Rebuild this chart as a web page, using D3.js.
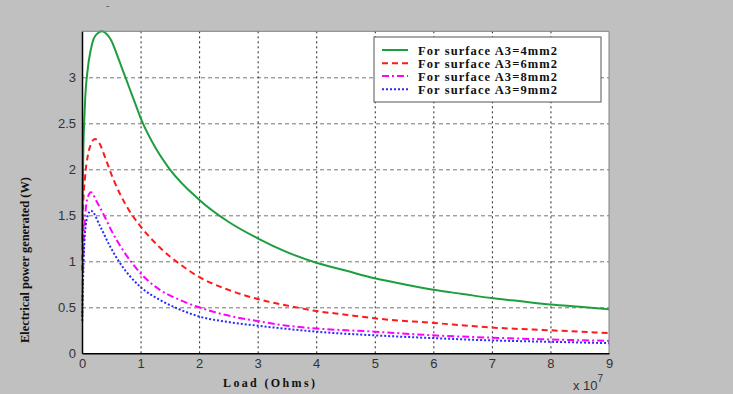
<!DOCTYPE html>
<html>
<head>
<meta charset="utf-8">
<script src="https://cdn.jsdelivr.net/npm/d3@7.9.0/dist/d3.min.js"></script>
<style>
  body { margin: 0; background: #c0c0c0; }
  svg { display: block; }
  .tick text { font-family: "Liberation Sans", Arial, sans-serif; font-size: 13px; fill: #333; }
  .serif { font-family: "Liberation Serif", "Times New Roman", serif; font-weight: bold; }
</style>
</head>
<body>
<div id="chart"></div>
<script>
// Load in units of 1e7 Ohms, power in W
const xTicks = [0, 1, 2, 3, 4, 5, 6, 7, 8, 9];
const yTicks = [0, 0.5, 1, 1.5, 2, 2.5, 3];

const loadA4 = [0.003, 0.01, 0.02, 0.05, 0.1, 0.15, 0.2, 0.27, 0.34, 0.42, 0.5, 0.6, 0.7, 0.8, 0.9, 1, 1.25, 1.5, 2, 2.5, 3, 3.5, 4, 4.5, 5, 5.5, 6, 6.5, 7, 7.5, 8, 8.5, 9];
const powerA4 = [1.2, 1.6, 2.1, 2.7, 3.1, 3.3, 3.42, 3.48, 3.5, 3.47, 3.4, 3.24, 3.07, 2.9, 2.73, 2.56, 2.24, 2.0, 1.67, 1.43, 1.25, 1.1, 0.985, 0.9, 0.815, 0.75, 0.69, 0.645, 0.6, 0.565, 0.53, 0.505, 0.48];

const loadA6 = [0.003, 0.01, 0.02, 0.05, 0.1, 0.15, 0.22, 0.3, 0.4, 0.53, 0.76, 1, 1.33, 1.67, 2, 2.5, 3, 3.5, 4, 4.5, 5, 6, 7, 8, 9];
const powerA6 = [0.9, 1.25, 1.6, 1.9, 2.15, 2.27, 2.33, 2.28, 2.12, 1.9, 1.6, 1.38, 1.15, 0.97, 0.83, 0.69, 0.59, 0.52, 0.46, 0.42, 0.38, 0.33, 0.28, 0.25, 0.22];

const loadA8 = [0.003, 0.01, 0.02, 0.05, 0.1, 0.154, 0.25, 0.36, 0.53, 0.7, 1, 1.33, 1.67, 2, 2.5, 3, 3.5, 4, 5, 6, 7, 8, 9];
const powerA8 = [0.4, 0.7, 1.0, 1.45, 1.7, 1.75, 1.65, 1.52, 1.3, 1.12, 0.87, 0.69, 0.58, 0.5, 0.41, 0.35, 0.3, 0.27, 0.235, 0.195, 0.17, 0.15, 0.135];

const loadA9 = [0.003, 0.01, 0.02, 0.05, 0.1, 0.154, 0.31, 0.48, 0.65, 1, 1.33, 1.62, 2, 2.5, 3, 3.5, 4, 5, 6, 7, 8, 9];
const powerA9 = [0.35, 0.6, 0.85, 1.3, 1.5, 1.55, 1.38, 1.16, 0.98, 0.72, 0.58, 0.49, 0.4, 0.34, 0.3, 0.265, 0.235, 0.195, 0.165, 0.14, 0.125, 0.11];

const seriesNames = ['For surface A3=4mm2', 'For surface A3=6mm2', 'For surface A3=8mm2', 'For surface A3=9mm2'];
const seriesColors = ['#1e9e3e', '#ff1a1a', '#ff00ff', '#2a2aff'];
const seriesDash = [null, '6,4', '7,3,2,3', '2,2'];

const series = [
  d3.zip(loadA4, powerA4),
  d3.zip(loadA6, powerA6),
  d3.zip(loadA8, powerA8),
  d3.zip(loadA9, powerA9),
];

const width = 733, height = 394;
const plot = { left: 82, right: 609, top: 31.3, bottom: 353.3 };

const svg = d3.select('#chart').append('svg')
  .attr('width', width)
  .attr('height', height);

svg.append('rect').attr('width', width).attr('height', height).attr('fill', '#c0c0c0');

const x = d3.scaleLinear().domain([0, 9]).range([plot.left, plot.right]);
const y = d3.scaleLinear().domain([0, 3.5]).range([plot.bottom, plot.top]);

svg.append('rect')
  .attr('x', plot.left).attr('y', plot.top)
  .attr('width', plot.right - plot.left).attr('height', plot.bottom - plot.top)
  .attr('fill', '#fff');

// gridlines
const hGrid = svg.append('g')
  .attr('transform', `translate(${plot.left},0)`)
  .call(d3.axisLeft(y).tickValues(yTicks.slice(1)).tickFormat('').tickSize(-(plot.right - plot.left)));
hGrid.select('.domain').remove();
hGrid.selectAll('line').attr('stroke', '#777').attr('stroke-dasharray', '4,3');

const vGrid = svg.append('g')
  .attr('transform', `translate(0,${plot.bottom})`)
  .call(d3.axisBottom(x).tickValues(xTicks.slice(1, -1)).tickFormat('').tickSize(-(plot.bottom - plot.top)));
vGrid.select('.domain').remove();
vGrid.selectAll('line').attr('stroke', '#222').attr('stroke-dasharray', '2,3');

// curves
const line = d3.line().x(d => x(d[0])).y(d => y(d[1])).curve(d3.curveMonotoneX);
svg.append('g').selectAll('path')
  .data(series)
  .join('path')
  .attr('d', line)
  .attr('fill', 'none')
  .attr('stroke', (d, i) => seriesColors[i])
  .attr('stroke-width', 2)
  .attr('stroke-dasharray', (d, i) => seriesDash[i]);

// frame
svg.append('line').attr('x1', plot.left).attr('x2', plot.right).attr('y1', plot.top).attr('y2', plot.top).attr('stroke', '#808080');
svg.append('line').attr('x1', plot.right).attr('x2', plot.right).attr('y1', plot.top).attr('y2', plot.bottom).attr('stroke', '#808080');

// axes
const xAxis = svg.append('g')
  .attr('transform', `translate(0,${plot.bottom})`)
  .call(d3.axisBottom(x).tickValues(xTicks).tickFormat(d3.format('~g')).tickSize(0).tickPadding(5));
xAxis.select('.domain').attr('stroke', '#000').attr('stroke-width', 1.5);

const yAxis = svg.append('g')
  .attr('transform', `translate(${plot.left},0)`)
  .call(d3.axisLeft(y).tickValues(yTicks).tickFormat(d3.format('~g')).tickSize(0).tickPadding(6));
yAxis.select('.domain').attr('stroke', '#000').attr('stroke-width', 1.5);

// axis labels
svg.append('text').attr('class', 'serif')
  .attr('x', 269).attr('y', 387)
  .attr('text-anchor', 'middle')
  .attr('font-size', 12).attr('fill', '#111')
  .attr('textLength', 92)
  .text('Load (Ohms)');

svg.append('text').attr('class', 'serif')
  .attr('transform', 'translate(29,260) rotate(-90)')
  .attr('text-anchor', 'middle')
  .attr('font-size', 11.5).attr('fill', '#111')
  .attr('textLength', 166).attr('lengthAdjust', 'spacingAndGlyphs')
  .text('Electrical power generated (W)');

const expo = svg.append('text')
  .attr('x', 573).attr('y', 390)
  .attr('font-family', '"Liberation Sans", Arial, sans-serif')
  .attr('font-size', 13).attr('fill', '#333');
expo.append('tspan').text('x 10');
expo.append('tspan').attr('dy', -8).attr('font-size', 10).text('7');

svg.append('text').attr('x', 106).attr('y', 9).attr('font-size', 10).attr('fill', '#555').text('-');

// legend
const legend = svg.append('g').attr('transform', 'translate(374,37)');
legend.append('rect').attr('width', 227).attr('height', 65).attr('fill', '#fff').attr('stroke', '#555');
const items = legend.selectAll('g.item')
  .data(seriesNames)
  .join('g')
  .attr('class', 'item')
  .attr('transform', (d, i) => `translate(0,${[13, 26.3, 39, 52.3][i]})`);
items.append('line')
  .attr('x1', 8).attr('x2', 34)
  .attr('stroke', (d, i) => seriesColors[i])
  .attr('stroke-width', 2)
  .attr('stroke-dasharray', (d, i) => seriesDash[i]);
items.append('text').attr('class', 'serif')
  .attr('x', 44).attr('y', 4.5)
  .attr('font-size', 12.5).attr('fill', '#111')
  .attr('textLength', 139)
  .text(d => d);
</script>
</body>
</html>
